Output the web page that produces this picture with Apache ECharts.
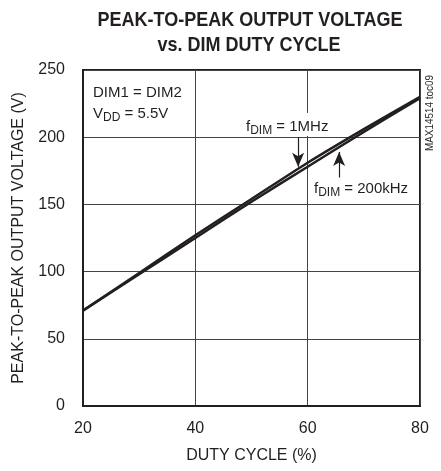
<!DOCTYPE html>
<html><head><meta charset="utf-8">
<script src="https://cdn.jsdelivr.net/npm/echarts@6/dist/echarts.min.js"></script>
<style>html,body{margin:0;padding:0;background:#fff}#c{width:441px;height:471px}</style>
</head><body><div id="c"></div>
<script>
const duty = [20, 30, 40, 50, 60, 70, 80];
const v1MHz = [71, 99, 127, 154, 181, 206, 230];
const v200kHz = [71, 98, 125, 152, 178, 204, 229];
const xTicks = [20, 40, 60, 80];
const yTicks = [0, 50, 100, 150, 200, 250];
const titleLines = ['PEAK-TO-PEAK OUTPUT VOLTAGE', 'vs. DIM DUTY CYCLE'];

const FONT = '"Liberation Sans", Arial, sans-serif';
const INK = '#231f20';
const chart = echarts.init(document.getElementById('c'), null, {renderer: 'canvas'});

const mk = (vals) => duty.map((d, i) => [d, vals[i]]);
const sub = {s: {fontFamily: FONT, fontSize: 12, fill: INK, padding: [8, 0, 0, 0]}};

chart.setOption({
  backgroundColor: '#fff',
  animation: false,
  grid: {left: 83, right: 21, top: 70, bottom: 65, show: true, borderColor: INK, borderWidth: 2, backgroundColor: 'transparent'},
  xAxis: {
    type: 'value', min: 20, max: 80, interval: 20,
    name: 'DUTY CYCLE (%)', nameLocation: 'middle', nameGap: 42,
    nameTextStyle: {fontFamily: FONT, fontSize: 16, color: INK},
    axisLine: {show: true, lineStyle: {color: INK, width: 2}},
    axisTick: {show: false},
    axisLabel: {fontFamily: FONT, fontSize: 16, color: INK, margin: 15,
      formatter: v => xTicks.includes(v) ? String(v) : ''},
    splitLine: {show: true, lineStyle: {color: '#444', width: 1}}
  },
  yAxis: {
    type: 'value', min: 0, max: 250, interval: 50,
    name: 'PEAK-TO-PEAK OUTPUT VOLTAGE (V)', nameLocation: 'middle', nameGap: 56,
    nameTextStyle: {fontFamily: FONT, fontSize: 16, color: INK},
    axisLine: {show: true, lineStyle: {color: INK, width: 2}},
    axisTick: {show: false},
    axisLabel: {fontFamily: FONT, fontSize: 16, color: INK, margin: 18,
      formatter: v => yTicks.includes(v) ? String(v) : ''},
    splitLine: {show: true, lineStyle: {color: '#444', width: 1}}
  },
  series: [
    {
      name: '1MHz', type: 'line', data: mk(v1MHz), showSymbol: false, smooth: 0.3,
      lineStyle: {color: INK, width: 2.5}, z: 5,
      markLine: {
        silent: true, symbol: ['none', 'arrow'], symbolSize: [9, 14],
        label: {show: false},
        lineStyle: {color: INK, width: 1.2, type: 'solid'},
        data: [
          [{coord: [58.3, 200]}, {coord: [58.3, 178]}],
          [{coord: [65.6, 170]}, {coord: [65.6, 189]}]
        ]
      }
    },
    {
      name: '200kHz', type: 'line', data: mk(v200kHz), showSymbol: false, smooth: 0.3,
      lineStyle: {color: INK, width: 2.5}, z: 5
    }
  ],
  graphic: [
    {type: 'text', x: 250, y: 20, scaleX: 0.857, z: 10, style: {
      text: titleLines[0], fontFamily: FONT, fontWeight: 'bold', fontSize: 21, fill: INK, align: 'center', verticalAlign: 'middle'}},
    {type: 'text', x: 249, y: 45, scaleX: 0.857, z: 10, style: {
      text: titleLines[1], fontFamily: FONT, fontWeight: 'bold', fontSize: 21, fill: INK, align: 'center', verticalAlign: 'middle'}},
    {type: 'rect', shape: {x: 242, y: 113, width: 94, height: 23}, style: {fill: '#fff'}, z: 3},
    {type: 'text', x: 246, y: 127, z: 10, style: {
      text: 'f{s|DIM} = 1MHz', fontFamily: FONT, fontSize: 15, fill: INK, verticalAlign: 'middle', rich: sub}},
    {type: 'text', x: 314, y: 189, z: 10, style: {
      text: 'f{s|DIM} = 200kHz', fontFamily: FONT, fontSize: 15, fill: INK, verticalAlign: 'middle', rich: sub}},
    {type: 'text', x: 93, y: 93, z: 10, style: {
      text: 'DIM1 = DIM2', fontFamily: FONT, fontSize: 15, fill: INK, verticalAlign: 'middle'}},
    {type: 'text', x: 93, y: 114, z: 10, style: {
      text: 'V{s|DD} = 5.5V', fontFamily: FONT, fontSize: 15, fill: INK, verticalAlign: 'middle', rich: sub}},
    {type: 'text', x: 430, y: 113, rotation: Math.PI / 2, scaleX: 0.9, z: 10, style: {
      text: 'MAX14514 toc09', fontFamily: FONT, fontSize: 11, fill: INK, align: 'center', verticalAlign: 'middle'}}
  ]
});
</script></body></html>
